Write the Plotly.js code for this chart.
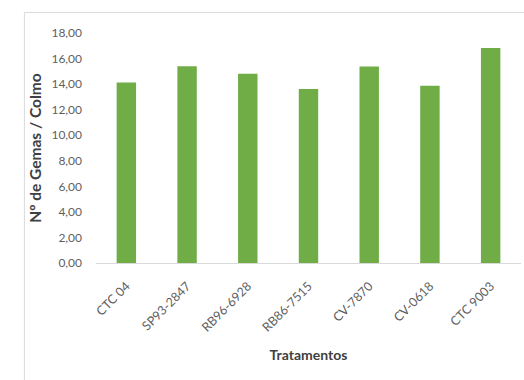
<!DOCTYPE html>
<html>
<head>
<meta charset="utf-8">
<script src="https://cdn.plot.ly/plotly-3.0.1.min.js"></script>
<style>
  html, body { margin: 0; padding: 0; background: #ffffff; }
  #chart { width: 524px; height: 380px; }
</style>
</head>
<body>
<div id="chart"></div>
<script>
// Number of buds per stalk for each sugarcane variety
const tratamentos = ['CTC 04', 'SP93-2847', 'RB96-6928', 'RB86-7515', 'CV-7870', 'CV-0618', 'CTC 9003'];
const gemasPorColmo = [14.13, 15.39, 14.81, 13.61, 15.37, 13.87, 16.83];
const yTickVals = [0, 2, 4, 6, 8, 10, 12, 14, 16, 18];
const yTickText = ['0,00', '2,00', '4,00', '6,00', '8,00', '10,00', '12,00', '14,00', '16,00', '18,00'];

const fontFamily = 'Lato, "Open Sans", "Liberation Sans", sans-serif';
const textGray = '#5f5f5f';

const trace = {
  type: 'bar',
  x: tratamentos,
  y: gemasPorColmo,
  marker: { color: '#70AD47' },
  width: 0.32,
  hoverinfo: 'x+y'
};

const layout = {
  width: 524,
  height: 380,
  margin: { l: 96, r: 3, t: 33, b: 117, pad: 0 },
  paper_bgcolor: '#ffffff',
  plot_bgcolor: '#ffffff',
  showlegend: false,
  font: { family: fontFamily, color: textGray, size: 12 },
  xaxis: {
    type: 'category',
    tickangle: -45,
    showgrid: false,
    zeroline: false,
    showline: true,
    linecolor: '#d9d9d9',
    linewidth: 1,
    ticks: '',
    ticklabelstandoff: 10,
    tickfont: { family: fontFamily, size: 12.5, color: textGray },
    title: {
      text: '<b>Tratamentos</b>',
      font: { family: fontFamily, size: 14, color: '#404040' },
      standoff: 16
    }
  },
  yaxis: {
    range: [0, 18],
    tickvals: yTickVals,
    ticktext: yTickText,
    showgrid: false,
    zeroline: false,
    showline: false,
    ticks: '',
    ticklabelstandoff: 13,
    tickfont: { family: fontFamily, size: 12, color: textGray },
    title: {
      text: '<b>Nº de Gemas / Colmo</b>',
      font: { family: fontFamily, size: 15.5, color: '#404040' },
      standoff: 5
    }
  },
  shapes: [
    // chart frame (top and left edges)
    { type: 'line', xref: 'paper', yref: 'paper', x0: -0.1685, x1: 1.02, y0: 1.0888, y1: 1.0888,
      line: { color: '#d9d9d9', width: 1 } },
    { type: 'line', xref: 'paper', yref: 'paper', x0: -0.1685, x1: -0.1685, y0: 1.0888, y1: -0.52,
      line: { color: '#d9d9d9', width: 1 } }
  ]
};

Plotly.newPlot('chart', [trace], layout, { displayModeBar: false, staticPlot: true });
</script>
</body>
</html>
